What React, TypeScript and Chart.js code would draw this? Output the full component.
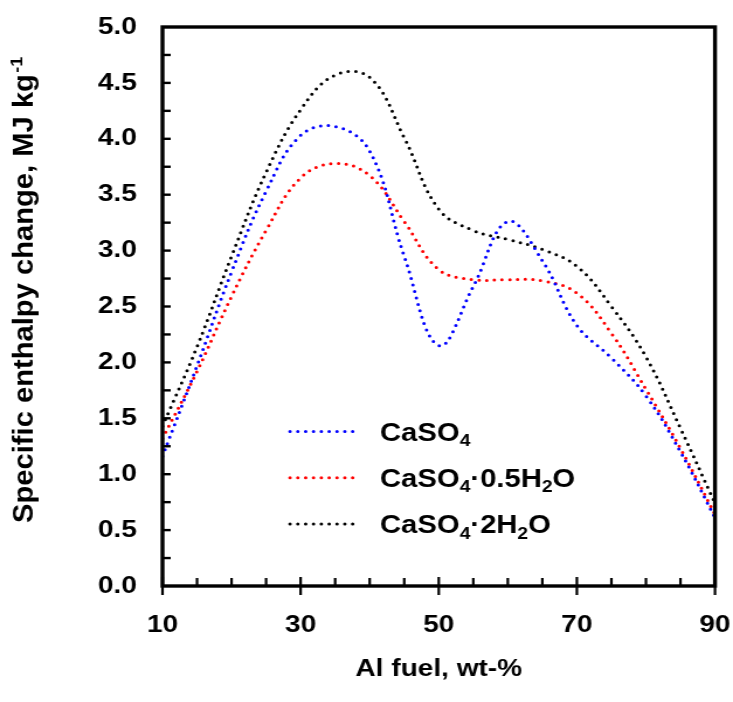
import React, { useEffect, useRef } from 'react';
import { Chart, registerables } from 'chart.js';

Chart.register(...registerables);

// ---- data (every 5 wt-%) ----
const alFuel = [10, 15, 20, 25, 30, 35, 40, 45, 50, 55, 60, 65, 70, 75, 80, 85, 90];
const caSO4 = [1.16, 1.97, 2.81, 3.53, 4.03, 4.11, 3.89, 2.95, 2.15, 2.68, 3.26, 2.91, 2.33, 2.04, 1.70, 1.20, 0.61];
const caSO4Hemihydrate = [1.32, 1.92, 2.59, 3.18, 3.65, 3.78, 3.67, 3.26, 2.83, 2.74, 2.74, 2.73, 2.62, 2.26, 1.76, 1.23, 0.64];
const caSO4Dihydrate = [1.43, 2.14, 2.95, 3.70, 4.26, 4.57, 4.55, 4.01, 3.37, 3.18, 3.10, 3.01, 2.86, 2.50, 2.05, 1.41, 0.74];
const seriesLabels = ['CaSO₄', 'CaSO₄·0.5H₂O', 'CaSO₄·2H₂O'];
const seriesColors = ['#0000FF', '#FF0000', '#000000'];
const xTickValues = [10, 30, 50, 70, 90];
const yTickValues = [0, 0.5, 1, 1.5, 2, 2.5, 3, 3.5, 4, 4.5, 5];
const xTitle = 'Al fuel, wt-%';
const yTitle = 'Specific enthalpy change, MJ kg';
const yTitleSup = '-1';

// ---- layout (internal canvas units; canvas is stretched horizontally) ----
const CANVAS_W = 627;
const CANVAS_H = 702;
const SX = 733 / CANVAS_W;
const FONT = "'Liberation Sans', Arial, sans-serif";

const SUBS = '₀₁₂₃₄₅₆₇₈₉';

function drawRich(ctx: CanvasRenderingContext2D, text: string, x: number, y: number, size: number) {
  let cx = x;
  for (const ch of Array.from(text)) {
    const si = SUBS.indexOf(ch);
    if (si >= 0) {
      ctx.font = `bold ${size * 0.66}px ${FONT}`;
      const t = String(si);
      ctx.fillText(t, cx, y + size * 0.22);
      cx += ctx.measureText(t).width;
    } else {
      ctx.font = `bold ${size}px ${FONT}`;
      ctx.fillText(ch, cx, y);
      cx += ctx.measureText(ch).width;
    }
  }
}

const framePlugin = {
  id: 'frameTicks',
  afterDatasetsDraw(chart: any) {
    const { ctx, chartArea: a, scales } = chart;
    const x = scales.x;
    const y = scales.y;
    ctx.save();
    ctx.strokeStyle = '#000';
    ctx.lineCap = 'butt';
    // y ticks (inside), every 0.25
    ctx.lineWidth = 2.4;
    for (let i = 1; i < (yTickValues.length - 1) * 2; i++) {
      const py = y.getPixelForValue(i * 0.25);
      ctx.beginPath();
      ctx.moveTo(a.left, py);
      ctx.lineTo(a.left + 7, py);
      ctx.stroke();
    }
    // x ticks: minor every 5 (inside), major crossing
    ctx.lineWidth = 2.2;
    for (let v = xTickValues[0]; v <= xTickValues[xTickValues.length - 1]; v += 5) {
      const px = x.getPixelForValue(v);
      const major = xTickValues.includes(v);
      ctx.beginPath();
      ctx.moveTo(px, a.bottom - (major ? 9 : 8));
      ctx.lineTo(px, a.bottom + (major ? 9 : 0));
      ctx.stroke();
    }
    // frame
    ctx.lineWidth = 3.4;
    ctx.strokeRect(a.left, a.top, a.right - a.left, a.bottom - a.top);
    ctx.restore();
  },
  afterDraw(chart: any) {
    const { ctx } = chart;
    ctx.save();
    // ---- y title with superscript ----
    const fs = 23;
    ctx.font = `bold ${fs}px ${FONT}`;
    const wMain = ctx.measureText(yTitle).width;
    ctx.font = `bold ${fs * 0.62}px ${FONT}`;
    const wSup = ctx.measureText(yTitleSup).width;
    const total = wMain + wSup;
    const k = 465 / total;
    ctx.translate(33 / SX, 290.5);
    ctx.rotate(-Math.PI / 2);
    ctx.scale(k, 1);
    ctx.fillStyle = '#000';
    ctx.textBaseline = 'alphabetic';
    ctx.textAlign = 'left';
    ctx.font = `bold ${fs}px ${FONT}`;
    ctx.fillText(yTitle, -total / 2, 0);
    ctx.font = `bold ${fs * 0.62}px ${FONT}`;
    ctx.fillText(yTitleSup, -total / 2 + wMain + 1, -fs * 0.42);
    ctx.restore();

    // ---- legend ----
    ctx.save();
    const lx0 = 290 / SX;
    const lx1 = 353 / SX;
    const tx = 380 / SX;
    const rowY0 = 431.5;
    const rowStep = 46.3;
    const lfs = 25;
    chart.data.datasets.forEach((ds: any, i: number) => {
      const ry = rowY0 + i * rowStep;
      ctx.strokeStyle = ds.borderColor;
      ctx.lineWidth = 3;
      ctx.lineCap = 'round';
      ctx.setLineDash([0, 6.7]);
      ctx.beginPath();
      ctx.moveTo(lx0, ry);
      ctx.lineTo(lx1, ry);
      ctx.stroke();
      ctx.setLineDash([]);
      ctx.fillStyle = '#000';
      ctx.textBaseline = 'alphabetic';
      ctx.textAlign = 'left';
      drawRich(ctx, ds.label, tx, ry + lfs * 0.36, lfs);
    });
    ctx.restore();
  },
};

export default function App() {
  const canvasRef = useRef<HTMLCanvasElement | null>(null);

  useEffect(() => {
    const canvas = canvasRef.current;
    if (!canvas) return;
    const series = [caSO4, caSO4Hemihydrate, caSO4Dihydrate];
    const tickFont = { family: FONT, size: 24, weight: 'bold' as const };
    const chart = new Chart(canvas, {
      type: 'line',
      data: {
        datasets: series.map((vals, i) => ({
          label: seriesLabels[i],
          data: vals.map((v, j) => ({ x: alFuel[j], y: v })),
          borderColor: seriesColors[i],
          backgroundColor: seriesColors[i],
          borderWidth: 3,
          borderDash: [0, 6.6],
          borderCapStyle: 'round' as const,
          pointRadius: 0,
          tension: 0.4,
          fill: false,
        })),
      },
      options: {
        animation: false,
        responsive: false,
        maintainAspectRatio: false,
        devicePixelRatio: 1,
        events: [],
        layout: { padding: { left: 0, right: CANVAS_W - 715 / SX, top: 27, bottom: 0 } },
        plugins: {
          legend: { display: false },
          tooltip: { enabled: false },
          title: { display: false },
        },
        scales: {
          x: {
            type: 'linear',
            min: xTickValues[0],
            max: xTickValues[xTickValues.length - 1],
            afterBuildTicks: (s: any) => {
              s.ticks = xTickValues.map((v) => ({ value: v }));
            },
            afterFit: (s: any) => {
              s.height = CANVAS_H - 586;
              s.paddingLeft = 0;
              s.paddingRight = 0;
            },
            grid: { display: false, drawTicks: false },
            border: { display: false },
            ticks: {
              color: '#000',
              font: tickFont,
              padding: 25,
              maxRotation: 0,
              autoSkip: false,
            },
            title: {
              display: true,
              text: xTitle,
              color: '#000',
              font: tickFont,
              padding: { top: 0, bottom: 18 },
            },
          },
          y: {
            type: 'linear',
            min: yTickValues[0],
            max: yTickValues[yTickValues.length - 1],
            afterBuildTicks: (s: any) => {
              s.ticks = yTickValues.map((v) => ({ value: v }));
            },
            afterFit: (s: any) => {
              s.width = 162.5 / SX;
              s.paddingTop = 0;
              s.paddingBottom = 0;
            },
            grid: { display: false, drawTicks: false },
            border: { display: false },
            ticks: {
              color: '#000',
              font: tickFont,
              padding: 22,
              autoSkip: false,
              callback: (v: any) => Number(v).toFixed(1),
            },
          },
        },
      },
      plugins: [framePlugin],
    });
    return () => chart.destroy();
  }, []);

  return (
    <div style={{ position: 'fixed', left: 0, top: 0, width: 733, height: 702, background: '#fff' }}>
      <canvas
        ref={canvasRef}
        width={CANVAS_W}
        height={CANVAS_H}
        style={{ width: '733px', height: '702px', display: 'block' }}
      />
    </div>
  );
}
